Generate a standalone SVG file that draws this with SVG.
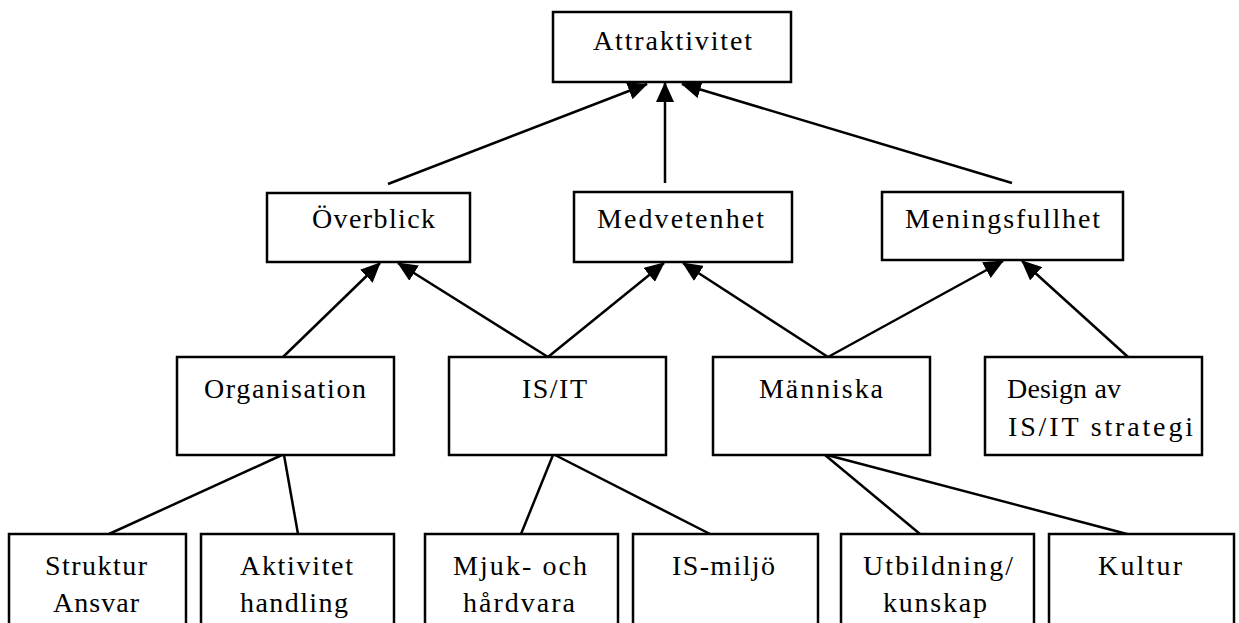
<svg xmlns="http://www.w3.org/2000/svg" width="1239" height="623" viewBox="0 0 1239 623">
<style>
.box{fill:#fff;stroke:#000;stroke-width:2.5}
.t{font-family:"Liberation Serif","Times New Roman",serif;font-size:28px;fill:#000}
.c{stroke:#000;stroke-width:2.5;fill:none}
.a{marker-end:url(#arr)}
</style>
<defs>
<marker id="arr" markerUnits="userSpaceOnUse" markerWidth="20" markerHeight="18" viewBox="0 0 20 18" refX="19" refY="9" orient="auto">
<path d="M0,0 L20,9 L0,18 z" fill="#000"/>
</marker>
</defs>
<rect width="1239" height="623" fill="#fff"/>
<g id="connectors">
<line class="c a" x1="388" y1="184" x2="647" y2="84"/>
<line class="c a" x1="665" y1="183" x2="665" y2="83"/>
<line class="c a" x1="1012" y1="183" x2="682" y2="84"/>
<line class="c a" x1="283" y1="357" x2="380" y2="263"/>
<line class="c a" x1="548" y1="357" x2="398" y2="263"/>
<line class="c a" x1="548" y1="357" x2="664" y2="263"/>
<line class="c a" x1="828" y1="357" x2="683" y2="263"/>
<line class="c a" x1="828" y1="357" x2="1003" y2="261"/>
<line class="c a" x1="1128" y1="357" x2="1022" y2="261"/>
<line class="c" x1="282" y1="455" x2="109" y2="534"/>
<line class="c" x1="284" y1="455" x2="298" y2="534"/>
<line class="c" x1="553" y1="455" x2="521" y2="534"/>
<line class="c" x1="555" y1="455" x2="710" y2="534"/>
<line class="c" x1="825" y1="455" x2="920" y2="534"/>
<line class="c" x1="827" y1="455" x2="1127" y2="534"/>
</g>
<g id="attraktivitet"><rect class="box" x="553" y="12" width="238" height="70"/><text class="t" x="593" y="50" textLength="159" lengthAdjust="spacing">Attraktivitet</text></g>
<g id="overblick"><rect class="box" x="267" y="193" width="203" height="69"/><text class="t" x="312" y="228" textLength="123" lengthAdjust="spacing">Överblick</text></g>
<g id="medvetenhet"><rect class="box" x="574" y="192" width="218" height="70"/><text class="t" x="597" y="228" textLength="167" lengthAdjust="spacing">Medvetenhet</text></g>
<g id="meningsfullhet"><rect class="box" x="882" y="192" width="241" height="68"/><text class="t" x="905" y="228" textLength="195" lengthAdjust="spacing">Meningsfullhet</text></g>
<g id="organisation"><rect class="box" x="177" y="357" width="217" height="98"/><text class="t" x="204" y="398" textLength="162" lengthAdjust="spacing">Organisation</text></g>
<g id="isit"><rect class="box" x="449" y="357" width="217" height="98"/><text class="t" x="522" y="398" textLength="65" lengthAdjust="spacing">IS/IT</text></g>
<g id="manniska"><rect class="box" x="713" y="357" width="217" height="98"/><text class="t" x="759" y="398" textLength="124" lengthAdjust="spacing">Människa</text></g>
<g id="design"><rect class="box" x="985" y="357" width="217" height="98"/><text class="t" x="1007" y="398" textLength="114" lengthAdjust="spacing">Design av</text><text class="t" x="1008" y="436" textLength="185" lengthAdjust="spacing">IS/IT strategi</text></g>
<g id="struktur"><rect class="box" x="9" y="534" width="177" height="100"/><text class="t" x="45" y="575" textLength="102" lengthAdjust="spacing">Struktur</text><text class="t" x="53" y="612" textLength="86" lengthAdjust="spacing">Ansvar</text></g>
<g id="aktivitet"><rect class="box" x="201" y="534" width="193" height="100"/><text class="t" x="240" y="575" textLength="113" lengthAdjust="spacing">Aktivitet</text><text class="t" x="240" y="612" textLength="108" lengthAdjust="spacing">handling</text></g>
<g id="mjuk"><rect class="box" x="425" y="534" width="193" height="100"/><text class="t" x="453" y="575" textLength="134" lengthAdjust="spacing">Mjuk- och</text><text class="t" x="463" y="612" textLength="112" lengthAdjust="spacing">hårdvara</text></g>
<g id="ismiljo"><rect class="box" x="633" y="534" width="185" height="100"/><text class="t" x="672" y="575" textLength="103" lengthAdjust="spacing">IS-miljö</text></g>
<g id="utbildning"><rect class="box" x="841" y="534" width="193" height="100"/><text class="t" x="863" y="575" textLength="150" lengthAdjust="spacing">Utbildning/</text><text class="t" x="883" y="612" textLength="104" lengthAdjust="spacing">kunskap</text></g>
<g id="kultur"><rect class="box" x="1049" y="534" width="185" height="100"/><text class="t" x="1098" y="575" textLength="84" lengthAdjust="spacing">Kultur</text></g>
</svg>
